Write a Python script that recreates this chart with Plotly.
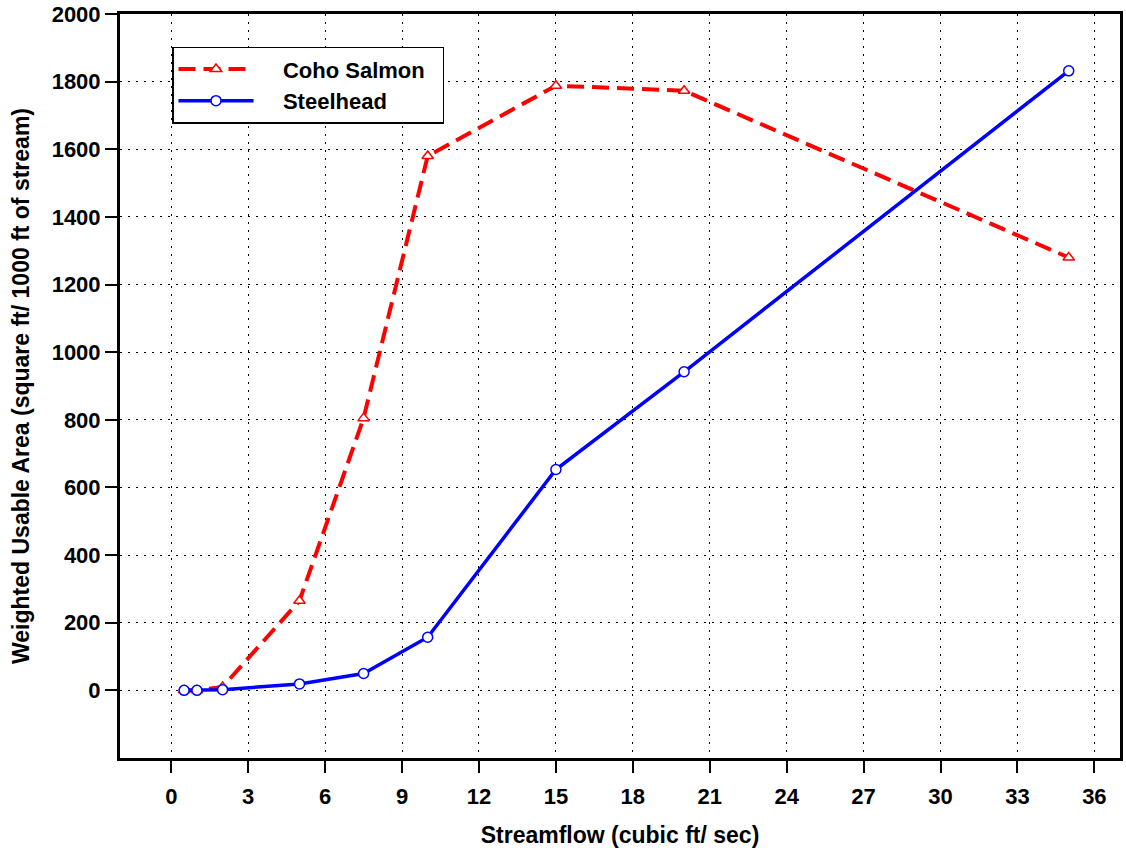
import plotly.graph_objects as go

flow = [0.5, 1, 2, 5, 7.5, 10, 15, 20, 35]
coho = [0, 0, 10, 265, 805, 1580, 1788, 1773, 1280]
steelhead = [0, 0, 2, 19, 50, 157, 653, 942, 1832]
x_ticks = list(range(0, 37, 3))
y_ticks = list(range(0, 2001, 200))

FONT = "Liberation Sans, Arial, sans-serif"
NB = "\u00a0"

fig = go.Figure()
fig.add_trace(go.Scatter(
    x=flow, y=coho, name=NB * 4 + "Coho Salmon" + NB * 2, mode="lines+markers",
    line=dict(color="#ff0000", width=4, dash="17px,8px"),
    marker=dict(symbol="triangle-up", size=10, color="white",
                line=dict(color="#ff0000", width=1.5)),
))
fig.add_trace(go.Scatter(
    x=flow, y=steelhead, name=NB * 4 + "Steelhead", mode="lines+markers",
    line=dict(color="#0000ff", width=3.5),
    marker=dict(symbol="circle", size=10, color="white",
                line=dict(color="#0000ff", width=1.5)),
))

axis_common = dict(
    showline=True, linecolor="black", linewidth=3, mirror=True,
    ticks="outside", ticklen=12, tickwidth=2, tickcolor="black",
    showgrid=True, gridcolor="black", gridwidth=1, griddash="2px,6px",
    zeroline=False,
    tickfont=dict(family=FONT, size=22, color="black", weight="bold"),
)

fig.update_xaxes(
    range=[-2, 37], tickvals=x_ticks, ticktext=[str(v) for v in x_ticks],
    ticklabelstandoff=5,
    title=dict(text="<b>Streamflow (cubic ft/ sec)</b>", standoff=19,
               font=dict(family=FONT, size=23, color="black")),
    **axis_common,
)
fig.update_yaxes(
    range=[-200, 2000], tickvals=y_ticks, ticktext=[str(v) for v in y_ticks],
    title=dict(text="<b>Weighted Usable Area (square ft/ 1000 ft of stream)</b>", standoff=16,
               font=dict(family=FONT, size=23, color="black")),
    **axis_common,
)

fig.update_layout(
    width=1126, height=850,
    margin=dict(l=120, r=6, t=14, b=92, autoexpand=False),
    paper_bgcolor="white", plot_bgcolor="white",
    showlegend=True,
    legend=dict(
        x=0.052, y=0.956, xanchor="left", yanchor="top",
        bgcolor="white", bordercolor="black", borderwidth=1.5,
        font=dict(family=FONT, size=22, color="black", weight="bold"),
        itemwidth=75, tracegroupgap=0,
    ),
)

fig.write_html("out.html", config={"displayModeBar": False},
               post_script="document.body.style.margin='0';")
